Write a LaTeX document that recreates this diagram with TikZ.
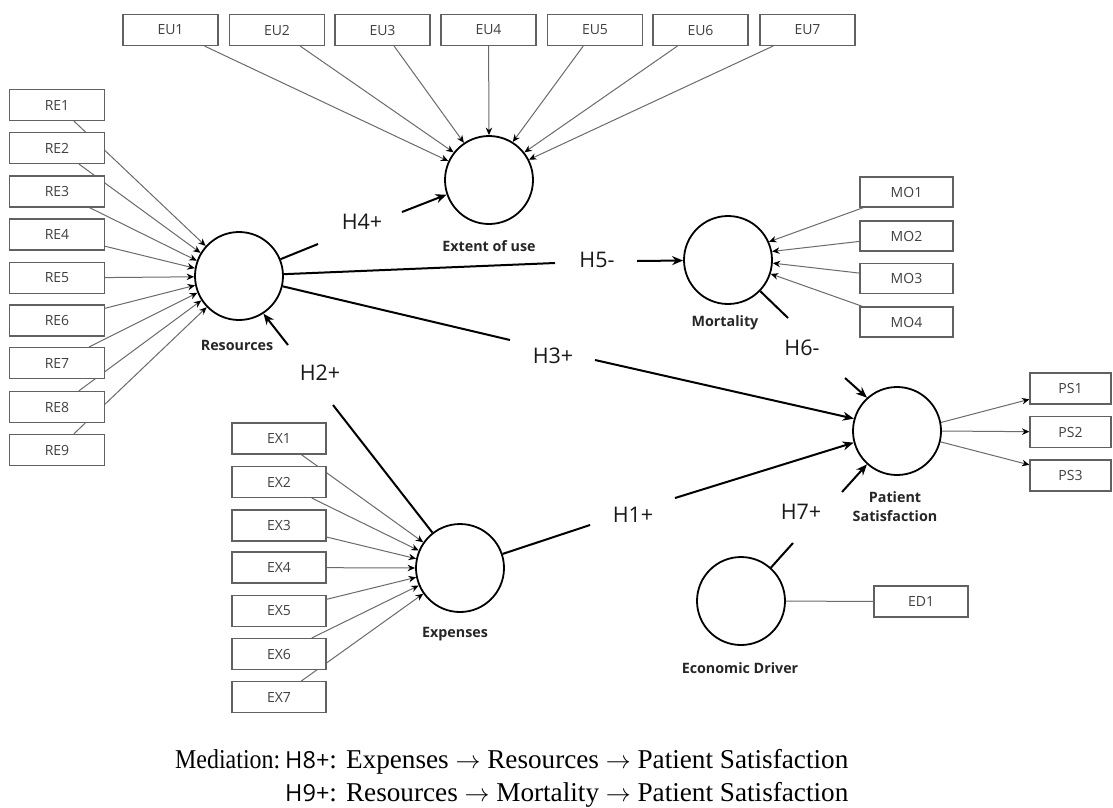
\documentclass[tikz,border=0pt]{standalone}
\usepackage{fontspec}
\usepackage{graphicx}
\setmainfont{Liberation Serif}
\newfontfamily\uifont{Open Sans}
\newfontfamily\hsans{Open Sans}
\usetikzlibrary{arrows.meta}
\pgfdeclarelayer{back}
\pgfdeclarelayer{lines}
\pgfsetlayers{back,lines,main}
\begin{document}
\begin{tikzpicture}[x=1pt,y=-1pt,
  construct/.style={circle, draw=black, line width=1.8pt, minimum size=88pt, inner sep=0pt},
  indicator/.style={rectangle, draw=black!62, line width=1.1pt, fill=white,
    minimum width=95pt, minimum height=31pt, inner sep=0pt,
    font=\uifont\fontsize{14}{16}\selectfont, text=black!75},
  loading/.style={draw=black!58, line width=1pt, -{Stealth[length=7.5pt,width=6.5pt,black]}},
  plainload/.style={draw=black!58, line width=1pt},
  struct/.style={draw=black, line width=2pt},
  structarrow/.style={struct, -{Stealth[length=11pt,width=9pt]}},
  hlabel/.style={font=\uifont\fontsize{21.5}{25}\selectfont, inner sep=0pt, text=black!90},
  clabel/.style={font=\uifont\bfseries\fontsize{14.3}{19}\selectfont, text=black!85, align=center, inner sep=0pt}
]
\begin{pgfonlayer}{back}
  \fill[white] (0,0) rectangle (1113,807);
\end{pgfonlayer}
\useasboundingbox (0,0) rectangle (1113,807);

% latent constructs
\node[construct] (ext)  at (489,180) {};
\node[construct] (res)  at (239,276) {};
\node[construct] (mort) at (728,260) {};
\node[construct] (ps)   at (897,431) {};
\node[construct] (exp)  at (460,568) {};
\node[construct] (ed)   at (741,601) {};

\node[clabel] (lext)  at (489,246) {Extent of use};
\node[clabel] (lres)  at (237,345) {Resources};
\node[clabel] (lmort) at (725,323) {Mortality};
\node[clabel] (lps)   at (895,507) {Patient\\Satisfaction};
\node[clabel] (lexp)  at (455,634) {Expenses};
\node[clabel] (led)   at (740,668) {Economic Driver};

% indicators
\foreach \i/\x in {1/170.5,2/277,3/382.5,4/488.5,5/595,6/700.5,7/807.5}
  \node[indicator] (eu\i) at (\x,30) {EU\i};
\foreach \i/\y in {1/105,2/148,3/191.5,4/234.5,5/278,6/320.5,7/363,8/407,9/450}
  \node[indicator] (re\i) at (57,\y) {RE\i};
\foreach \i/\y in {1/192,2/236,3/278.5,4/322}
  \node[indicator, minimum width=93pt, minimum height=30pt] (mo\i) at (906.5,\y) {MO\i};
\foreach \i/\y in {1/438.5,2/482,3/525.5,4/567.5,5/611,6/654,7/697}
  \node[indicator, minimum width=94pt] (ex\i) at (279,\y) {EX\i};
\foreach \i/\y in {1/388.5,2/432,3/475.5}
  \node[indicator, minimum width=81pt] (ps\i) at (1070.5,\y) {PS\i};
\node[indicator, minimum width=94pt] (ed1) at (921,601.5) {ED1};

% outer model
\begin{pgfonlayer}{lines}
  \foreach \i/\a in {1/155,2/142,3/124,4/90,5/58,6/38,7/27}
    \draw[loading] (eu\i) -- (ext.\a);
  \foreach \i/\a in {1/138,2/149,3/160,4/170,5/181,6/192,7/202,8/213,9/224}
    \draw[loading] (re\i) -- (res.\a);
  \foreach \i/\a in {1/24,2/11,3/-4,4/-18}
    \draw[loading] (mo\i) -- (mort.\a);
  \foreach \i/\a in {1/145,2/157,3/168,4/180,5/192,6/203,7/215}
    \draw[loading] (ex\i) -- (exp.\a);
  \draw[loading] (ps.11) -- (ps1);
  \draw[loading] (ps.0) -- (ps2);
  \draw[loading] (ps.-14) -- (ps3);
  \draw[plainload] (ed) -- (ed1);
\end{pgfonlayer}

% hypothesis labels
\node[hlabel] (h4) at (362,222) {H4+};
\node[hlabel] (h5) at (597,260) {H5-};
\node[hlabel] (h3) at (553,356) {H3+};
\node[hlabel] (h2) at (320,373) {H2+};
\node[hlabel] (h1) at (633,515) {H1+};
\node[hlabel] (h6) at (802,348) {H6-};
\node[hlabel] (h7) at (801,512) {H7+};

% ends of the path segments around the labels
\coordinate (h4a) at (318,244);  \coordinate (h4b) at (402,212);
\coordinate (h5a) at (555,263);  \coordinate (h5b) at (637,261);
\coordinate (h3a) at (510,340);  \coordinate (h3b) at (595,360);
\coordinate (h2a) at (333,405);  \coordinate (h2b) at (288,345);
\coordinate (h1a) at (590,525);  \coordinate (h1b) at (675,498);
\coordinate (h6a) at (788,318);  \coordinate (h6b) at (845,378);
\coordinate (h7a) at (793,543);  \coordinate (h7b) at (842,492);

% inner model
\draw[struct] (res) -- (h4a);  \draw[structarrow] (h4b) -- (ext.199);
\draw[struct] (res) -- (h5a);  \draw[structarrow] (h5b) -- (mort);
\draw[struct] (res) -- (h3a);  \draw[structarrow] (h3b) -- (ps.164);
\draw[struct] (exp) -- (h2a);  \draw[structarrow] (h2b) -- (res.303);
\draw[struct] (exp) -- (h1a);  \draw[structarrow] (h1b) -- (ps.195);
\draw[struct] (mort) -- (h6a); \draw[structarrow] (h6b) -- (ps.132);
\draw[struct] (ed) -- (h7a);   \draw[structarrow] (h7b) -- (ps.228);

% mediation note
\node[anchor=north west, inner sep=0pt] (med) at (175,745)
  {\fontsize{27.2}{33}\selectfont
   \begin{tabular}{@{}l@{\hspace{5pt}}l@{}}
   \scalebox{0.88}[1]{Mediation:} & {\hsans\fontsize{23.5}{33}\selectfont H8+}: Expenses $\rightarrow$ Resources $\rightarrow$ Patient Satisfaction\\
   & {\hsans\fontsize{23.5}{33}\selectfont H9+}: Resources $\rightarrow$ Mortality $\rightarrow$ Patient Satisfaction
   \end{tabular}};
\end{tikzpicture}
\end{document}
